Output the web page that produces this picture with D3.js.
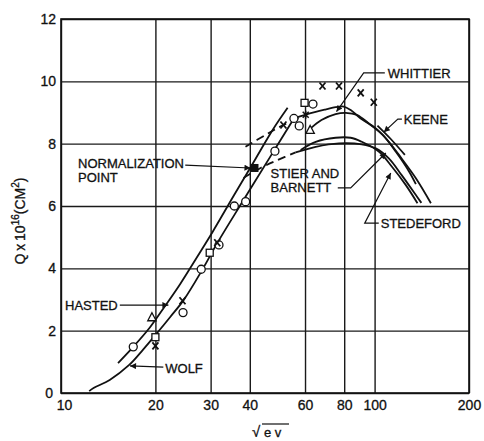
<!DOCTYPE html>
<html>
<head>
<meta charset="utf-8">
<script src="https://cdn.jsdelivr.net/npm/d3@7"></script>
<style>
  body { margin: 0; background: #fff; }
  text { font-family: "Liberation Sans", Arial, sans-serif; fill: #111; stroke: #111; stroke-width: 0.3px; }
</style>
</head>
<body>
<div id="chart"></div>
<script>
// Axis ticks
const xTicks = [10, 20, 30, 40, 60, 80, 100, 200];
const yTicks = [0, 2, 4, 6, 8, 10, 12];

// Curves: [sqrt(eV), Q x 1e16]
const wolfCurve = [[12.3, 0.06], [12.7, 0.16], [14.3, 0.42], [16.5, 0.9], [18.3, 1.4], [20, 1.86], [22.3, 2.44],
  [24.6, 2.98], [28.2, 3.95], [31.5, 4.81], [38.2, 6.19], [46.6, 7.6], [55.3, 8.81]];
const hastedCurve = [[15.2, 0.96], [17.0, 1.48], [19.2, 2.1], [21.5, 2.8], [24.0, 3.5], [26.8, 4.27], [30.4, 5.16],
  [35.5, 6.32], [41.7, 7.51], [47.3, 8.44], [52.8, 9.15]];
const keeneCurve = [[55.3, 8.81], [60.3, 8.93], [64.9, 9.02], [70, 9.1], [75.1, 9.17], [79.7, 9.19], [83.9, 9.08],
  [90.3, 8.81], [100.9, 8.49], [111, 8.06], [121.8, 7.53], [135.4, 6.89], [151.2, 6.09]];
const keeneTail = [[102.1, 8.58], [112.6, 8.15], [124.9, 7.64]];
const whittierCurve = [[62.5, 8.49], [67.7, 8.76], [75.1, 8.95], [80.9, 8.99], [88, 8.92], [95.8, 8.65],
  [106.2, 8.28], [116.9, 7.74], [128.9, 7.1], [135.4, 6.7]];
const stedefordCurve = [[58.1, 7.8], [64.9, 8.06], [75.1, 8.19], [83.9, 8.19], [91, 8.06], [103.3, 7.74],
  [113.6, 7.26], [125.8, 6.67], [137, 6.09]];
const stierDashed = [[38.2, 6.9], [43.3, 7.22], [49, 7.47], [56, 7.72]];
const stierCurve = [[56, 7.72], [64.9, 7.9], [77, 8.01], [91, 7.98], [100.9, 7.85], [111, 7.53], [122, 6.99],
  [135.4, 6.35], [141, 6.1]];
const upperDashed = [[38.75, 7.9], [44.9, 8.28], [51.2, 8.6], [58.9, 8.87]];

// Measured points
const circlePts = [[17.0, 1.48], [24.5, 2.58], [28.0, 3.97], [31.9, 4.75], [35.7, 6.0], [38.8, 6.14],
  [48.1, 7.76], [55.3, 8.81], [57.5, 8.57], [63.6, 9.27]];
const squarePts = [[20, 1.79], [29.8, 4.5], [59.8, 9.31]];
const trianglePts = [[19.5, 2.43], [62.3, 8.44]];
const crossPts = [[20, 1.51], [24.4, 2.96], [31.5, 4.82], [51.2, 8.6], [68.2, 9.85], [77, 9.85], [90.3, 9.63], [99.4, 9.33]];
const starPts = [[60.3, 8.93]];
const normPt = [[41.4, 7.22]];

let svgWidth = 484;
let svgHeight = 441;
let margin = { top: 19, right: 15, bottom: 48, left: 61 };
let width = svgWidth - margin.left - margin.right;
let height = svgHeight - margin.top - margin.bottom;

let svg = d3.select("#chart").append("svg").attr("width", svgWidth).attr("height", svgHeight);
let chartGroup = svg.append("g").attr("transform", `translate(${margin.left}, ${margin.top})`);

let x = d3.scaleLog().domain([10, 200]).range([0, width]);
let y = d3.scaleLinear().domain([0, 12]).range([height, 0]);

svg.append("defs").append("marker")
  .attr("id", "arrow")
  .attr("viewBox", "0 0 10 10")
  .attr("refX", 10).attr("refY", 5)
  .attr("markerWidth", 9).attr("markerHeight", 6)
  .attr("markerUnits", "userSpaceOnUse")
  .attr("orient", "auto")
  .append("path").attr("d", "M0,0 L10,5 L0,10 z").attr("fill", "#111");

// Grid + axes
let xAxis = chartGroup.append("g")
  .attr("transform", `translate(0, ${height})`)
  .call(d3.axisBottom(x).tickValues(xTicks).tickSize(-height).tickPadding(7).tickFormat(d3.format("d")));
let yAxis = chartGroup.append("g")
  .call(d3.axisLeft(y).tickValues(yTicks).tickSize(-width).tickPadding(5));

[xAxis, yAxis].forEach(a => {
  a.select(".domain").remove();
  a.selectAll("line").attr("stroke", "#1a1a1a").attr("stroke-width", 1.4);
  a.selectAll("text").style("font-size", "14px").attr("fill", "#111");
});
xAxis.selectAll("text").filter(d => d === 10).attr("dx", 3);
yAxis.selectAll("text").filter(d => d === 0).attr("dx", -3);

chartGroup.append("rect")
  .attr("width", width).attr("height", height)
  .attr("fill", "none").attr("stroke", "#111").attr("stroke-width", 1.6);

// Curves
let line = d3.line().x(d => x(d[0])).y(d => y(d[1])).curve(d3.curveCatmullRom.alpha(0.5));
let curves = [
  { data: wolfCurve, dash: null },
  { data: hastedCurve, dash: null },
  { data: keeneCurve, dash: null },
  { data: keeneTail, dash: null },
  { data: whittierCurve, dash: null },
  { data: stedefordCurve, dash: null },
  { data: stierCurve, dash: null },
  { data: stierDashed, dash: "8,5" },
  { data: upperDashed, dash: "8,5" }
];
curves.forEach(c => {
  chartGroup.append("path")
    .attr("d", line(c.data))
    .attr("fill", "none")
    .attr("stroke", "#111")
    .attr("stroke-width", 1.8)
    .attr("stroke-dasharray", c.dash);
});

// Markers
chartGroup.selectAll(".circ").data(circlePts).enter().append("circle")
  .attr("cx", d => x(d[0])).attr("cy", d => y(d[1])).attr("r", 4)
  .attr("fill", "#fff").attr("stroke", "#111").attr("stroke-width", 1.3);
chartGroup.selectAll(".sq").data(squarePts).enter().append("rect")
  .attr("x", d => x(d[0]) - 3.5).attr("y", d => y(d[1]) - 3.5).attr("width", 7).attr("height", 7)
  .attr("fill", "#fff").attr("stroke", "#111").attr("stroke-width", 1.3);
chartGroup.selectAll(".tri").data(trianglePts).enter().append("path")
  .attr("d", d => `M${x(d[0])},${y(d[1]) - 4.5} l4.2,8 h-8.4 z`)
  .attr("fill", "#fff").attr("stroke", "#111").attr("stroke-width", 1.3);
chartGroup.selectAll(".cross").data(crossPts).enter().append("path")
  .attr("d", d => `M${x(d[0]) - 3},${y(d[1]) - 3.5} l6,7 M${x(d[0]) + 3},${y(d[1]) - 3.5} l-6,7`)
  .attr("stroke", "#111").attr("stroke-width", 1.8);
chartGroup.selectAll(".star").data(starPts).enter().append("path")
  .attr("d", d => `M${x(d[0]) - 3},${y(d[1]) - 3} l6,6 M${x(d[0]) + 3},${y(d[1]) - 3} l-6,6 M${x(d[0])},${y(d[1]) - 4} v8`)
  .attr("stroke", "#111").attr("stroke-width", 1.5);
chartGroup.selectAll(".norm").data(normPt).enter().append("rect")
  .attr("x", d => x(d[0]) - 4).attr("y", d => y(d[1]) - 4).attr("width", 8).attr("height", 8)
  .attr("fill", "#111");

// Labels with leaders (positions in data units)
let notes = [
  { text: ["NORMALIZATION", "POINT"], at: [11.33, 7.22], leader: [[24.9, 7.31], [40.2, 7.22]] },
  { text: ["WHITTIER"], at: [110.2, 10.12], leader: [[107.8, 10.27], [92.3, 10.27], [75.6, 9.03]] },
  { text: ["KEENE"], at: [123.9, 8.63], leader: [[122.2, 8.79], [118.6, 8.79], [107, 8.37]] },
  { text: ["STIER AND", "BARNETT"], at: [46.6, 6.9], leader: [[76.3, 6.58], [83.9, 6.58], [108.6, 7.7]] },
  { text: ["STEDEFORD"], at: [104.6, 5.29], leader: [[103.1, 5.45], [93.0, 5.45], [112.6, 7.06]] },
  { text: ["HASTED"], at: [10.3, 2.66], leader: [[15.4, 2.82], [22.0, 2.82]] },
  { text: ["WOLF"], at: [21.5, 0.64], leader: [[21.2, 0.83], [16.6, 0.87]] }
];
let straight = d3.line().x(d => x(d[0])).y(d => y(d[1]));
notes.forEach(n => {
  let t = chartGroup.append("text")
    .attr("x", x(n.at[0])).attr("y", y(n.at[1]))
    .style("font-size", "13px");
  n.text.forEach((s, i) => {
    t.append("tspan").attr("x", x(n.at[0])).attr("dy", i === 0 ? 0 : 14).text(s);
  });
  chartGroup.append("path")
    .attr("d", straight(n.leader))
    .attr("fill", "none").attr("stroke", "#111").attr("stroke-width", 1.2)
    .attr("marker-end", "url(#arrow)");
});

// Axis titles
let yTitle = svg.append("text")
  .attr("transform", "translate(25, 221) rotate(-90)")
  .attr("text-anchor", "middle")
  .style("font-size", "14px");
yTitle.append("tspan").text("Q\u2009x\u200910");
yTitle.append("tspan").attr("dy", -6).style("font-size", "10px").text("16");
yTitle.append("tspan").attr("dy", 6).text("(CM");
yTitle.append("tspan").attr("dy", -6).style("font-size", "10px").text("2");
yTitle.append("tspan").attr("dy", 6).text(")");

svg.append("text").attr("x", 252).attr("y", 437).style("font-size", "15px").text("\u221A");
svg.append("text").attr("x", 264).attr("y", 437).style("font-size", "13px").text("e v");
svg.append("line").attr("x1", 262).attr("x2", 289).attr("y1", 424).attr("y2", 424)
  .attr("stroke", "#111").attr("stroke-width", 1.2);
</script>
</body>
</html>
